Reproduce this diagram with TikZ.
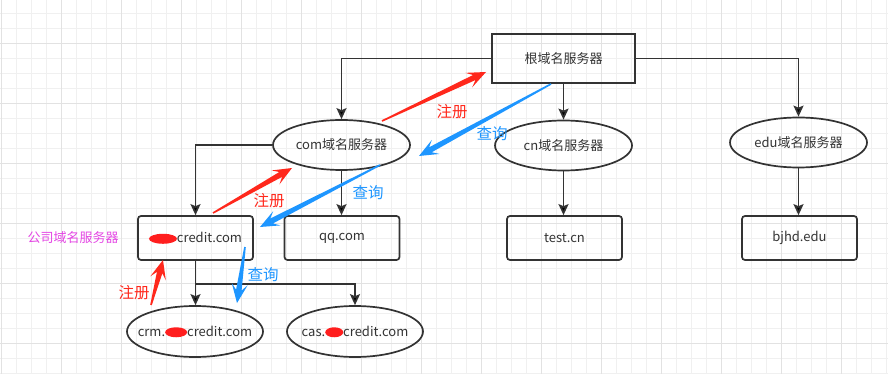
\documentclass[tikz,border=0pt]{standalone}
\usepackage{fontspec}
\setmainfont{Noto Sans CJK SC}
\usetikzlibrary{calc,arrows.meta,shapes.geometric}
\definecolor{ink}{HTML}{333333}
\definecolor{gridminor}{HTML}{F0F0F0}
\definecolor{gridmajor}{HTML}{E2E2E2}
\definecolor{regred}{RGB}{255,40,28}
\definecolor{qryblue}{RGB}{30,150,255}
\definecolor{labmag}{RGB}{228,70,228}
\definecolor{blobred}{RGB}{255,30,30}
\newcommand{\blob}[1]{\tikz[baseline=-3.8pt]{\fill[blobred] (0pt,0pt) ellipse [x radius=#1, y radius=5pt];}}
\newcommand{\fatarrow}[3]{%
  \coordinate (h1) at ($(#3)!13pt!(#2)$);
  \coordinate (h2) at ($(#3)!19pt!(#2)$);
  \fill[#1] ($(#2)!0.8pt!90:(#3)$) -- ($(h1)!2.8pt!90:(#3)$) -- ($(h2)!8pt!90:(#3)$) -- (#3)
    -- ($(h2)!8pt!-90:(#3)$) -- ($(h1)!2.8pt!-90:(#3)$) -- ($(#2)!0.8pt!-90:(#3)$) -- cycle;}
\begin{document}
\begin{tikzpicture}[x=1pt,y=-1pt,
  txt/.style={font=\fontsize{13}{15}\selectfont, text=ink},
  rootbox/.style={txt, draw=ink, line width=1.9pt, minimum width=143pt, minimum height=49pt, inner sep=0pt},
  leafbox/.style={txt, draw=ink, line width=1.7pt, rounded corners=3pt, minimum width=115pt, minimum height=44pt, inner sep=0pt},
  oval/.style={txt, ellipse, draw=ink, line width=1.7pt, minimum width=137pt, minimum height=50pt, inner sep=0pt},
  conn/.style={draw=ink, line width=1.7pt, -{Stealth[length=11pt,width=10pt,inset=2pt]}},
  ann/.style={font=\fontsize{15.5}{17}\selectfont},
]
\useasboundingbox (0,0) rectangle (888,374);
\fill[white] (0,0) rectangle (888,374);
% grid
\foreach \xx in {1,16,...,886} \draw[gridminor, line width=0.8pt] (\xx,0) -- (\xx,374);
\foreach \yy in {13,28,...,373} \draw[gridminor, line width=0.8pt] (0,\yy) -- (888,\yy);
\foreach \xx in {1,61,...,886} \draw[gridmajor, line width=0.8pt] (\xx,0) -- (\xx,374);
\foreach \yy in {43,103,...,373} \draw[gridmajor, line width=0.8pt] (0,\yy) -- (888,\yy);

% nodes
\node[rootbox] (root) at (563.5,58.5) {根域名服务器};
\node[oval] (com) at (341.5,145) {\makebox[0pt]{com域名服务器}};
\node[oval] (cn) at (563.5,145.5) {\makebox[0pt]{cn域名服务器}};
\node[oval] (edu) at (798.5,142.5) {\makebox[0pt]{edu域名服务器}};
\node[leafbox] (comp) at (195.5,238) {\blob{14pt}credit.com};
\node[leafbox] (qq) at (342,238) {qq.com};
\node[leafbox] (test) at (564.5,238) {test.cn};
\node[leafbox] (bjhd) at (799.5,238) {bjhd.edu};
\node[oval, minimum width=136pt, minimum height=51pt] (crm) at (195,331.5) {\makebox[0pt]{crm.\blob{11pt}credit.com}};
\node[oval, minimum width=136pt, minimum height=51pt] (cas) at (355,331.5) {\makebox[0pt]{cas.\blob{9pt}credit.com}};
\node[font=\fontsize{13}{15}\selectfont, text=labmag] (complab) at (73,238) {公司域名服务器};

% connectors
\draw[conn] (root.west) -| (com.north);
\draw[conn] (root.east) -| (edu.north);
\draw[conn] (root.south) -- (root.south |- cn.north);
\draw[conn] (com.west) -| (comp.north);
\draw[conn] (com.south) -- (com.south |- qq.north);
\draw[conn] (cn.south) -- (cn.south |- test.north);
\draw[conn] (edu.south) -- (edu.south |- bjhd.north);
\draw[conn] (comp.south) -- (comp.south |- crm.north);
\coordinate (br) at ($(comp.south)+(0,23)$);
\draw[conn] (br) -| (cas.north);

% annotation arrows
\coordinate (r1a) at (382,121); \coordinate (r1b) at (486,72);
\coordinate (r2a) at (213,213); \coordinate (r2b) at (292,168);
\coordinate (r3a) at (151,305); \coordinate (r3b) at (163,260);
\coordinate (b1a) at (551,84);  \coordinate (b1b) at (419,156);
\coordinate (b2a) at (380,165); \coordinate (b2b) at (260,227);
\coordinate (b3a) at (245,247); \coordinate (b3b) at (237,303);
\fatarrow{regred}{r1a}{r1b}
\fatarrow{regred}{r2a}{r2b}
\fatarrow{regred}{r3a}{r3b}
\fatarrow{qryblue}{b1a}{b1b}
\fatarrow{qryblue}{b2a}{b2b}
\fatarrow{qryblue}{b3a}{b3b}

% annotation labels
\node[ann, text=regred] (l1) at (452,112) {注册};
\node[ann, text=regred] (l2) at (269,201) {注册};
\node[ann, text=regred] (l3) at (134,293) {注册};
\node[ann, text=qryblue] (q1) at (492,134) {查询};
\node[ann, text=qryblue] (q2) at (368,193) {查询};
\node[ann, text=qryblue] (q3) at (263,275) {查询};
\end{tikzpicture}
\end{document}
